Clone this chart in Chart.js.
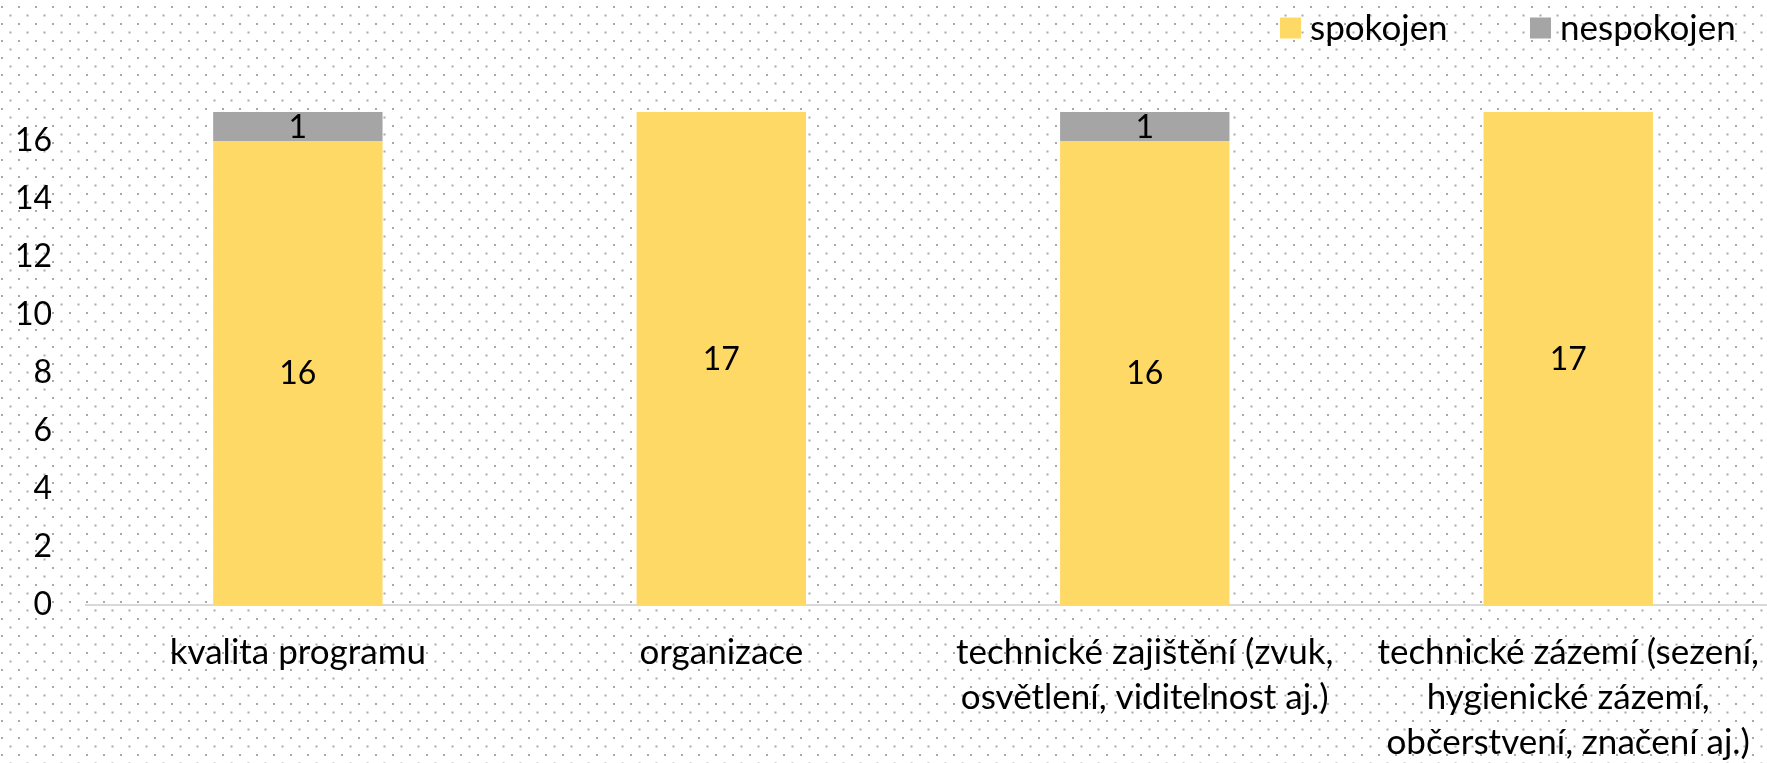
<!DOCTYPE html>
<html>
<head>
<meta charset="utf-8">
<script src="https://cdn.jsdelivr.net/npm/chart.js@4"></script>
<style>
  html, body { margin: 0; padding: 0; overflow: hidden; }
  body {
    width: 1767px; height: 763px;
    background-color: #fff;
    background-image:
      radial-gradient(circle at 1px 1px, #a8a8a8 0.9px, transparent 1.4px),
      radial-gradient(circle at 1px 1px, #a8a8a8 0.9px, transparent 1.4px);
    background-size: 17px 17px, 17px 17px;
    background-position: 1px 6px, 9.5px 14.5px;
  }
  #wrap { position: absolute; left: 0; top: 0; width: 1784px; height: 763px; }
</style>
</head>
<body>
<div id="wrap"><canvas id="c"></canvas></div>
<script>
// 値は図から読んだもの
const categories = [
  'kvalita programu',
  'organizace',
  ['technické zajištění (zvuk,', 'osvětlení, viditelnost aj.)'],
  ['technické zázemí (sezení,', 'hygienické zázemí,', 'občerstvení, značení aj.)'],
];
const spokojen = [16, 17, 16, 17];
const nespokojen = [1, 0, 1, 0];
const yTicks = [0, 2, 4, 6, 8, 10, 12, 14, 16];

const FONT = 'Lato, "Open Sans", sans-serif';
const TEXT_SIZE = 35; // 軸カテゴリ・凡例
const NUM_SIZE = 32;  // 数字(目盛り・値ラベル)

// 棒の中央に値を描く(0 は描かない)
const valueLabels = {
  id: 'valueLabels',
  afterDatasetsDraw(chart) {
    const ctx = chart.ctx;
    ctx.save();
    ctx.font = `${NUM_SIZE}px ${FONT}`;
    ctx.fillStyle = '#000';
    ctx.textAlign = 'center';
    ctx.textBaseline = 'middle';
    chart.data.datasets.forEach((ds, i) => {
      const meta = chart.getDatasetMeta(i);
      meta.data.forEach((el, j) => {
        const v = ds.data[j];
        if (!v) return;
        const { x, y, base } = el.getProps(['x', 'y', 'base'], true);
        ctx.fillText(String(v), x, (y + base) / 2 + 1);
      });
    });
    ctx.restore();
  },
};

// Excel 風の凡例(右上、項目幅は等幅)
const topLegend = {
  id: 'topLegend',
  afterDraw(chart) {
    const ctx = chart.ctx;
    ctx.save();
    ctx.font = `${TEXT_SIZE}px ${FONT}`;
    ctx.textBaseline = 'middle';
    ctx.textAlign = 'left';
    const box = 21, cy = 28;
    let x = 1280;
    chart.data.datasets.forEach((ds) => {
      ctx.fillStyle = ds.backgroundColor;
      ctx.fillRect(x, cy - box / 2, box, box);
      ctx.fillStyle = '#000';
      ctx.fillText(ds.label, x + box + 9, cy + 1);
      x += 250;
    });
    ctx.restore();
  },
};

new Chart(document.getElementById('c'), {
  type: 'bar',
  data: {
    labels: categories,
    datasets: [
      { label: 'spokojen', data: spokojen, backgroundColor: '#FFD966' },
      { label: 'nespokojen', data: nespokojen, backgroundColor: '#A5A5A5' },
    ],
  },
  options: {
    responsive: true,
    maintainAspectRatio: false,
    animation: false,
    layout: { padding: { left: -19, top: 112, right: 0, bottom: -27 } },
    datasets: { bar: { categoryPercentage: 0.4, barPercentage: 1.0 } },
    plugins: { legend: { display: false }, tooltip: { enabled: false } },
    scales: {
      x: {
        stacked: true,
        offset: true,
        grid: { display: false, drawTicks: false },
        border: { display: true, color: '#D9D9D9', width: 2 },
        ticks: {
          color: '#000',
          font: { family: FONT, size: TEXT_SIZE, lineHeight: 1.286 },
          padding: 25,
          maxRotation: 0,
          autoSkip: false,
        },
      },
      y: {
        stacked: true,
        min: 0,
        max: 17,
        grid: { display: false, drawTicks: false },
        border: { display: false },
        afterBuildTicks(scale) {
          scale.ticks = yTicks.map((v) => ({ value: v }));
        },
        ticks: {
          color: '#000',
          font: { family: FONT, size: NUM_SIZE },
          padding: 34,
        },
      },
    },
  },
  plugins: [valueLabels, topLegend],
});
</script>
</body>
</html>
